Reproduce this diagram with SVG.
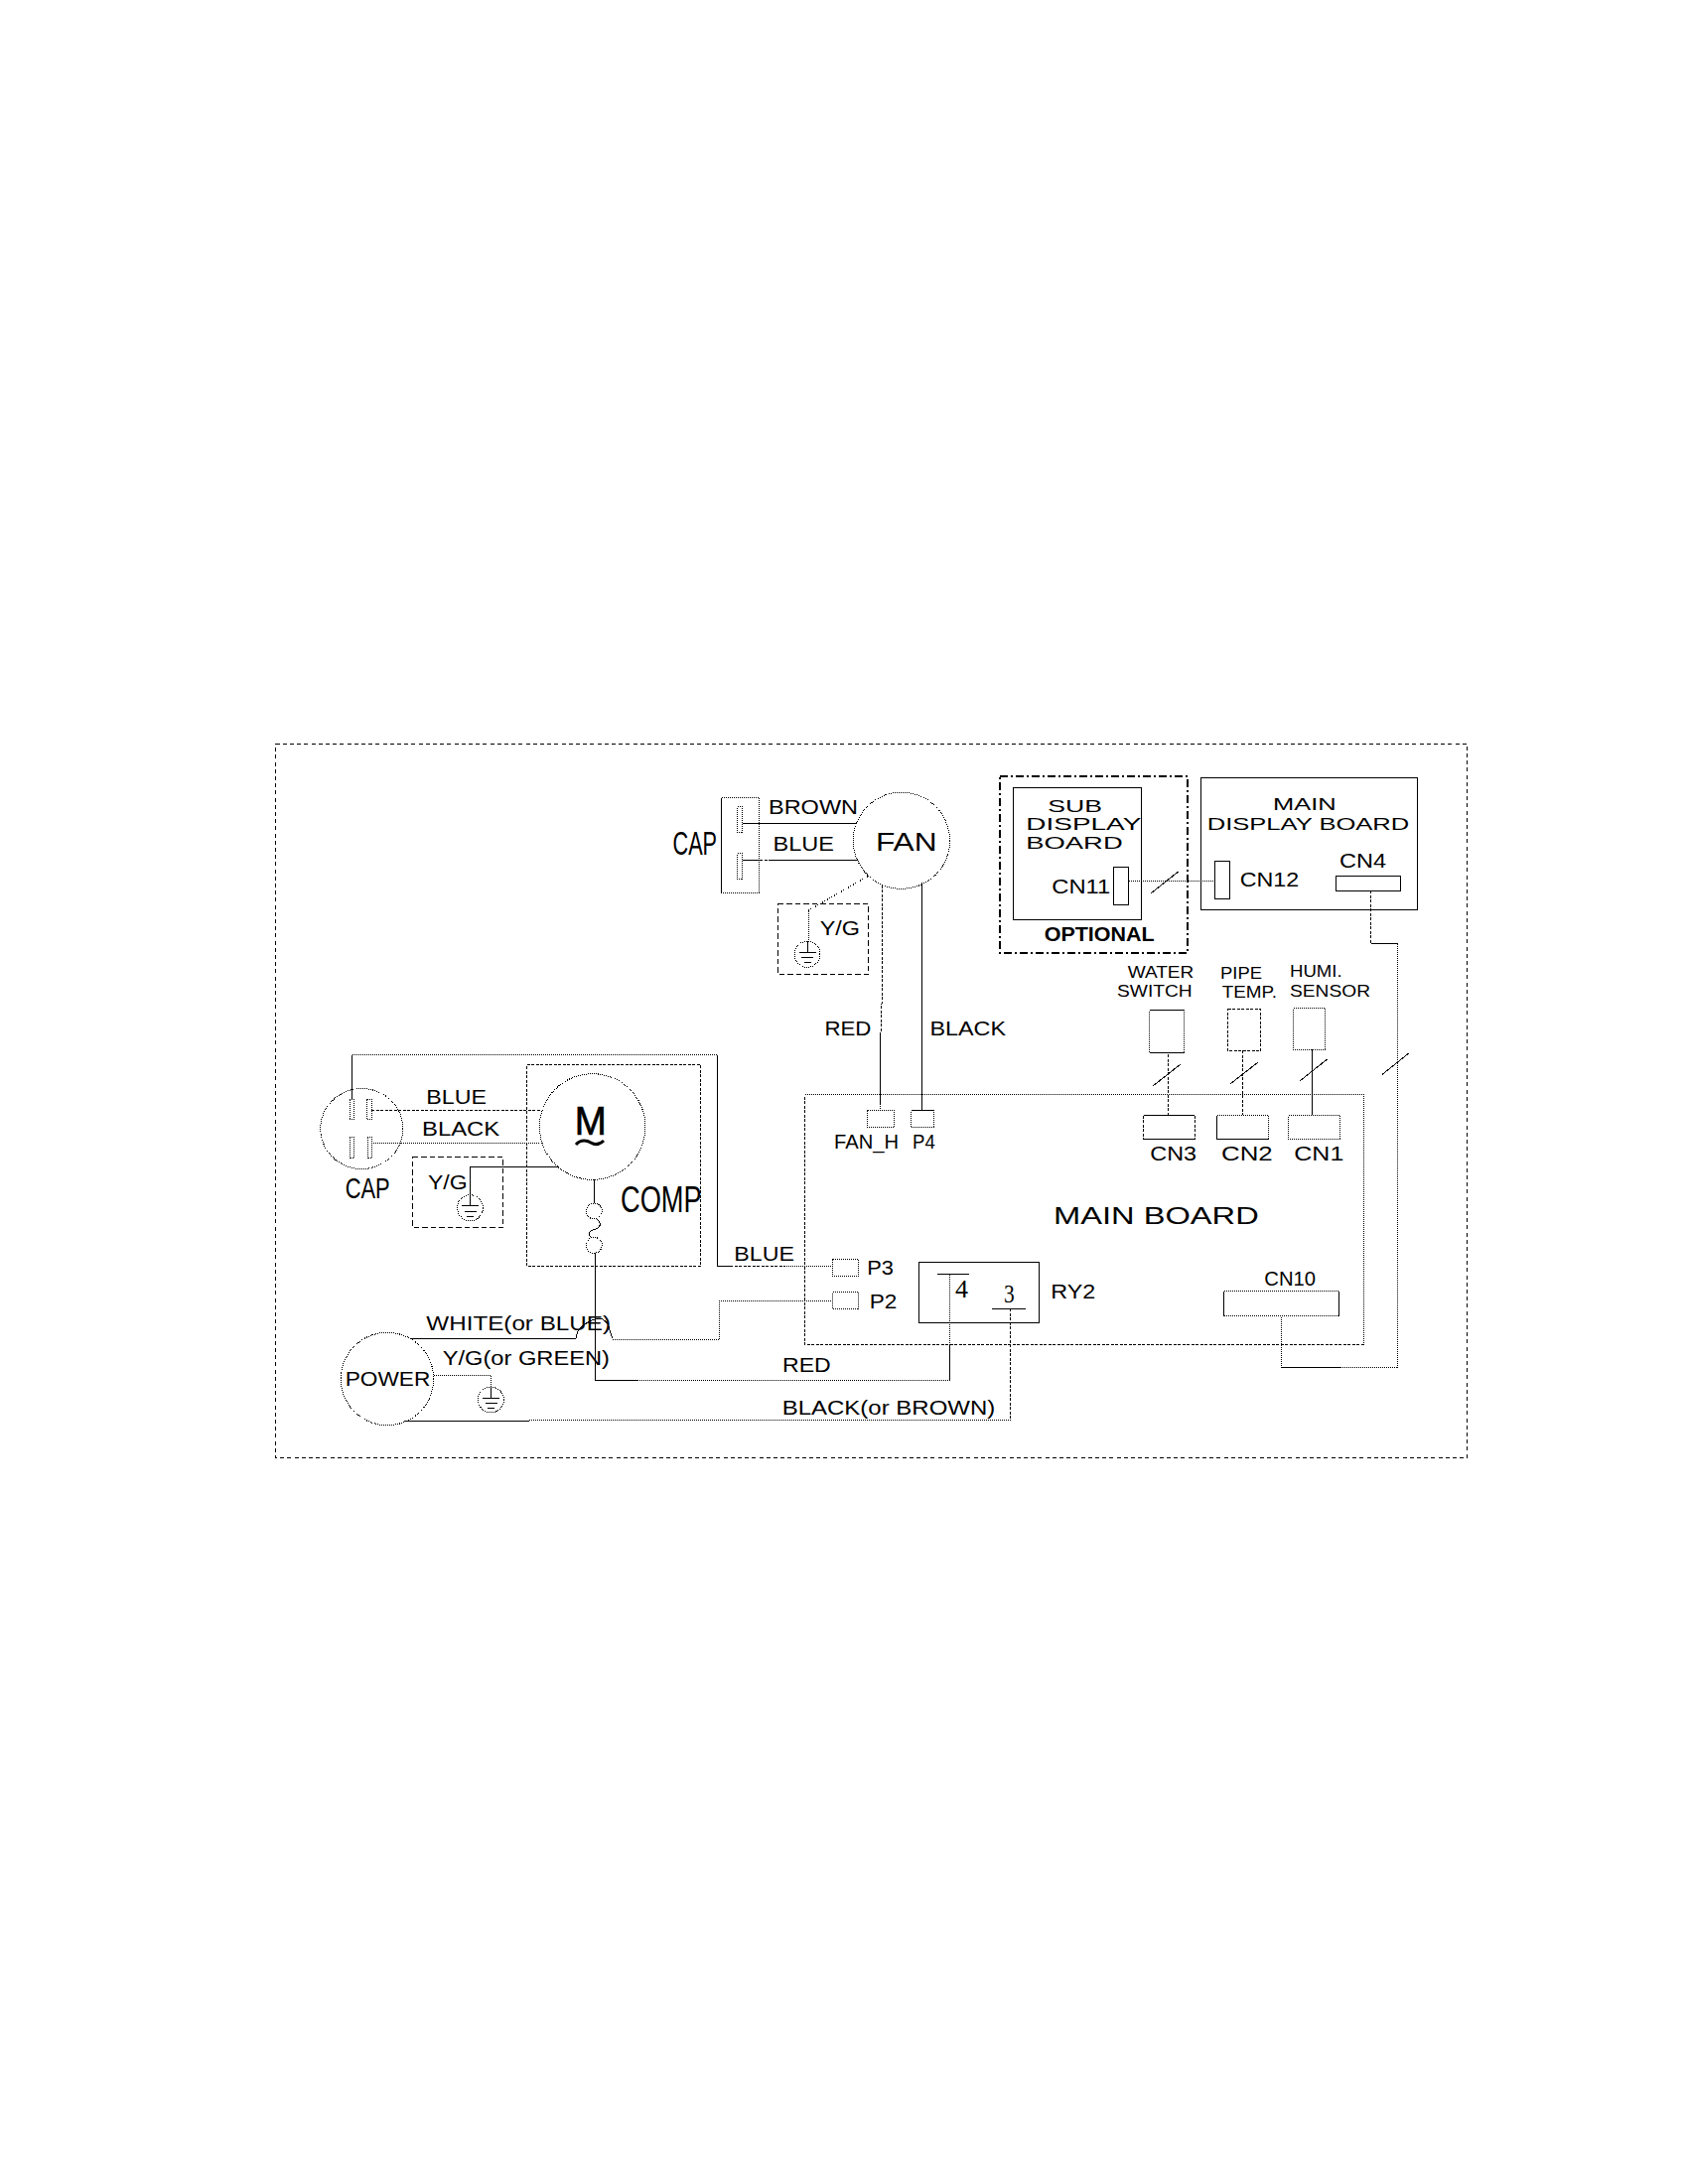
<svg xmlns="http://www.w3.org/2000/svg" width="1700" height="2200" viewBox="0 0 1700 2200">
<defs>
<style>
.s,.d,.m,.l,.o,.od{shape-rendering:crispEdges}
.s,.d,.m,.l,.o{fill:none;stroke:#000;stroke-width:1}
.d{stroke-dasharray:1 1}
.m{stroke-dasharray:3 1.5}
.l{stroke-dasharray:5.5 3}
.o{stroke-dasharray:4 3.2}
.od{fill:none;stroke:#000;stroke-width:2;stroke-dasharray:8 3 2 3}
text{font-family:"Liberation Sans",Arial,sans-serif;fill:#000}
.t21{font-size:21px}.t16{font-size:16.500px}.t17{font-size:17px}.t24{font-size:24px}.t25{font-size:25px}
.ser{font-family:"Liberation Serif","Times New Roman",serif;font-size:26px}
</style>
<g id="gnd"><circle class="d" r="13"/><path class="s" d="M0-13V-2M-8.500-2H8.500M-6 3.500H6M-3.500 8.500H3.500"/></g>
</defs>
<rect width="1700" height="2200" fill="#fff"/>
<rect id="frame" class="o" x="277.500" y="749.500" width="1200" height="719"/>

<g id="connectors">
<path class="s" d="M747.500 829.500H862"/>
<path class="s" d="M747.500 866.500H765"/><path class="m" d="M765 866.500H775"/><path class="s" d="M775 866.500H864"/>
<path class="d" d="M874 882.700L814 917.300V946.700"/>
<path class="m" d="M888.500 891.700V985L887.500 1040"/><path class="s" d="M886.500 1040V1112"/><path class="d" d="M886.500 1112V1118.300"/>
<path class="s" d="M928.500 889.300V1118.300"/>
<path class="d" d="M1136.700 887.500H1223.300"/><path class="s" d="M1159 900L1186.700 878"/>
<path class="m" d="M1380.500 897.300V950.500"/><path class="s" d="M1380.500 950.500H1407.500"/><path class="d" d="M1407.500 950.500V1377.500H1350"/><path class="s" d="M1350 1377.500H1290.500"/><path class="d" d="M1290.500 1377.500V1325.700"/>
<path class="s" d="M1391.700 1082.700L1418.700 1061"/>
<path class="m" d="M1176.500 1062V1123.300"/><path class="s" d="M1161 1094L1189 1072"/>
<path class="m" d="M1251.500 1058.300V1123.300"/><path class="s" d="M1239.300 1091.700L1266.700 1070.300"/>
<path class="s" d="M1321.500 1057.300V1123.300"/><path class="s" d="M1309.300 1088.700L1336.700 1067"/>
<path class="s" d="M354.500 1107V1062.500"/><path class="d" d="M354.500 1062.500H722.500"/><path class="s" d="M722.500 1062.500V1275.500H735"/><path class="m" d="M735 1275.500H790"/><path class="d" d="M790 1275.500H838.300"/>
<path class="m" d="M374 1118.500H544.300"/><path class="d" d="M374.300 1151.500H544.300"/>
<path class="s" d="M561.700 1175.500H473.500V1203.300"/>
<path class="s" d="M598.500 1188.300V1212"/><path class="s" d="M599.500 1262V1390.500H642"/><path class="d" d="M642 1390.500H956.500"/><path class="s" d="M956.500 1390.500V1355"/><path class="d" d="M956.500 1355V1283"/>
<path class="m" d="M1017.500 1318.300V1430.500"/><path class="d" d="M1017.500 1430.500H533"/><path class="s" d="M533 1431.500H406.700"/>
<path class="s" d="M413.300 1348.500H580C581 1344 581 1342 582.700 1340C586 1336 589 1333.500 593 1331.700C597 1329.500 600 1328 603 1328C607 1328 609 1330 611.700 1333C614 1338 615 1345 617.300 1348.500"/>
<path class="d" d="M617.300 1349.500H724.500V1310.500H838.300"/>
<path class="d" d="M436.700 1385.500H494.500V1397"/>
<path class="s" d="M944 1283.500H975.700M999 1318.500H1032.700"/>
</g>

<g id="fan-cap">
<rect class="d" x="726.500" y="803.500" width="38" height="96"/><path class="s" d="M726.500 803.500V899.500"/>
<rect class="d" x="742.500" y="812.500" width="5" height="26"/><rect class="d" x="742.500" y="859.500" width="5" height="26"/>
<text x="677.500" y="861" style="font-size:33px" textLength="44.500" lengthAdjust="spacingAndGlyphs">CAP</text>
</g>
<g id="fan">
<circle class="d" cx="907.900" cy="846.700" r="48.600"/>
<text class="t25" x="882" y="856.700" textLength="61.600" lengthAdjust="spacingAndGlyphs">FAN</text>
</g>
<g id="fan-labels">
<text class="t21" x="774" y="820" textLength="90" lengthAdjust="spacingAndGlyphs">BROWN</text>
<text class="t21" x="778.600" y="856.700" textLength="61.400" lengthAdjust="spacingAndGlyphs">BLUE</text>
<text class="t21" x="830.400" y="1042.700" textLength="47" lengthAdjust="spacingAndGlyphs">RED</text>
<text class="t21" x="936.400" y="1043" textLength="76.600" lengthAdjust="spacingAndGlyphs">BLACK</text>
</g>
<g id="fan-ground">
<rect class="l" x="783.500" y="910.500" width="91" height="71"/>
<use href="#gnd" x="813" y="961.300"/>
<text class="t21" x="825.700" y="941.700" textLength="40.300" lengthAdjust="spacingAndGlyphs">Y/G</text>
</g>

<g id="optional">
<rect class="od" x="1007" y="782" width="189" height="178"/>
<text x="1051.700" y="947.700" style="font-size:20px;font-weight:bold" textLength="111" lengthAdjust="spacingAndGlyphs">OPTIONAL</text>
</g>
<g id="sub-display-board">
<rect class="s" x="1020.500" y="793.500" width="129" height="133"/>
<text class="t17" x="1055.300" y="818.300" textLength="54.700" lengthAdjust="spacingAndGlyphs">SUB</text>
<text class="t17" x="1033.300" y="836" textLength="116" lengthAdjust="spacingAndGlyphs">DISPLAY</text>
<text class="t17" x="1033.300" y="855" textLength="97.400" lengthAdjust="spacingAndGlyphs">BOARD</text>
<rect class="s" x="1121.500" y="873.500" width="15" height="38"/>
<text class="t21" x="1059.300" y="900" textLength="59" lengthAdjust="spacingAndGlyphs">CN11</text>
</g>
<g id="main-display-board">
<rect class="s" x="1209.500" y="783.500" width="218" height="133"/>
<text class="t17" x="1282" y="816" textLength="63.700" lengthAdjust="spacingAndGlyphs">MAIN</text>
<text class="t17" x="1215.700" y="836" textLength="203.600" lengthAdjust="spacingAndGlyphs">DISPLAY BOARD</text>
<rect class="s" x="1223.500" y="867.500" width="15" height="38"/>
<text class="t21" x="1248.700" y="893.300" textLength="59.600" lengthAdjust="spacingAndGlyphs">CN12</text>
<rect class="s" x="1345.500" y="882.500" width="65" height="15"/>
<text class="t21" x="1349" y="874" textLength="47" lengthAdjust="spacingAndGlyphs">CN4</text>
</g>

<g id="water-switch">
<rect class="d" x="1157.500" y="1017.500" width="35" height="43"/>
<path class="s" d="M1157.500 1060.500H1192.500M1157.500 1017.500H1192.500"/>
<text class="t16" x="1135.700" y="985" textLength="66.600" lengthAdjust="spacingAndGlyphs">WATER</text>
<text class="t16" x="1125" y="1004" textLength="75.700" lengthAdjust="spacingAndGlyphs">SWITCH</text>
</g>
<g id="pipe-temp">
<rect class="m" x="1236.500" y="1016.500" width="33" height="42"/>
<text class="t16" x="1229" y="986" textLength="42" lengthAdjust="spacingAndGlyphs">PIPE</text>
<text class="t16" x="1230.700" y="1004.700" textLength="55.300" lengthAdjust="spacingAndGlyphs">TEMP.</text>
</g>
<g id="humi-sensor">
<rect class="d" x="1302.500" y="1015.500" width="32" height="42"/>
<text class="t16" x="1299" y="984" textLength="52.700" lengthAdjust="spacingAndGlyphs">HUMI.</text>
<text class="t16" x="1299" y="1004" textLength="81" lengthAdjust="spacingAndGlyphs">SENSOR</text>
</g>

<g id="main-board">
<path class="d" d="M810.500 1102.500H1373.500V1354.500"/>
<path class="m" d="M1373.500 1354.500H810.500V1102.500"/>
<rect class="d" x="873.500" y="1118.500" width="26.500" height="17"/>
<text class="t21" x="840" y="1157.300" textLength="65" lengthAdjust="spacingAndGlyphs">FAN_H</text>
<rect class="d" x="917.500" y="1118.500" width="23" height="17"/><path class="s" d="M917.500 1118.500H940.500"/>
<text class="t21" x="919" y="1156.700" textLength="22.700" lengthAdjust="spacingAndGlyphs">P4</text>
<path class="m" d="M1151.500 1123.500V1147.500M1203 1123.500V1147.500"/><path class="s" d="M1151.500 1123.500H1203M1151.500 1147.500H1203"/>
<text class="t21" x="1158.300" y="1169.300" textLength="46.700" lengthAdjust="spacingAndGlyphs">CN3</text>
<rect class="d" x="1225.500" y="1123.500" width="52" height="24"/><path class="s" d="M1225.500 1123.500V1147.500H1277.500"/>
<text class="t21" x="1230" y="1168.700" textLength="51.700" lengthAdjust="spacingAndGlyphs">CN2</text>
<rect class="d" x="1297.500" y="1123.500" width="52" height="24"/>
<text class="t21" x="1303.300" y="1169.300" textLength="50" lengthAdjust="spacingAndGlyphs">CN1</text>
<text class="t24" x="1061" y="1233.300" textLength="206.700" lengthAdjust="spacingAndGlyphs">MAIN BOARD</text>
<rect class="d" x="1232.500" y="1300.500" width="116" height="25"/><path class="s" d="M1232.500 1300.500V1325.500M1348.500 1300.500V1325.500"/>
<text class="t21" x="1273.300" y="1295" textLength="51.700" lengthAdjust="spacingAndGlyphs">CN10</text>
<rect class="d" x="838.500" y="1268.500" width="25.500" height="17"/>
<text class="t21" x="873.300" y="1284" textLength="26.700" lengthAdjust="spacingAndGlyphs">P3</text>
<rect class="d" x="838.500" y="1301.500" width="26" height="17"/>
<text class="t21" x="875.700" y="1317.700" textLength="27.600" lengthAdjust="spacingAndGlyphs">P2</text>
</g>
<g id="ry2">
<rect class="s" x="925.500" y="1271.500" width="121" height="61"/>
<text class="ser" x="962" y="1306.700" textLength="13" lengthAdjust="spacingAndGlyphs">4</text>
<text class="ser" x="1011" y="1312.300" textLength="10.700" lengthAdjust="spacingAndGlyphs">3</text>
<text class="t21" x="1058.300" y="1307.700" textLength="45" lengthAdjust="spacingAndGlyphs">RY2</text>
</g>

<g id="comp-cap">
<ellipse class="d" cx="364.300" cy="1137" rx="41.500" ry="40.500"/>
<rect class="d" x="352" y="1107.500" width="4.500" height="20"/><rect class="d" x="369.500" y="1107.500" width="4.500" height="20"/>
<rect class="d" x="352" y="1145.500" width="4.500" height="21"/><rect class="d" x="370" y="1145.500" width="4.500" height="21"/>
<text x="347.700" y="1206.700" style="font-size:30px" textLength="45" lengthAdjust="spacingAndGlyphs">CAP</text>
</g>
<g id="comp">
<rect class="m" x="530.500" y="1072.500" width="175" height="203"/>
<circle class="d" cx="596.700" cy="1135" r="53.300"/>
<text x="578.700" y="1142.700" style="font-size:41px" stroke="#000" stroke-width=".7" textLength="32" lengthAdjust="spacingAndGlyphs">M</text>
<path fill="none" stroke="#000" stroke-width="3" d="M580 1153C585 1147 592 1149 595 1151C600 1154 604 1153 608 1149"/>
<circle class="d" cx="598.300" cy="1220" r="8"/><circle class="d" cx="598.300" cy="1254.300" r="8"/>
<path class="s" d="M601 1228C606 1232 605 1236 600 1238C592 1240 592 1244 596 1247"/>
<text x="625" y="1220.700" style="font-size:37px" textLength="81.700" lengthAdjust="spacingAndGlyphs">COMP</text>
</g>
<g id="comp-labels">
<text class="t21" x="429.300" y="1111.700" textLength="60.700" lengthAdjust="spacingAndGlyphs">BLUE</text>
<text class="t21" x="425" y="1144.300" textLength="78.300" lengthAdjust="spacingAndGlyphs">BLACK</text>
<text class="t21" x="739.300" y="1270" textLength="60.700" lengthAdjust="spacingAndGlyphs">BLUE</text>
<text class="t21" x="429.300" y="1340" textLength="185.700" lengthAdjust="spacingAndGlyphs">WHITE(or BLUE)</text>
<text class="t21" x="445.700" y="1375" textLength="168.300" lengthAdjust="spacingAndGlyphs">Y/G(or GREEN)</text>
<text class="t21" x="788" y="1381.700" textLength="48.700" lengthAdjust="spacingAndGlyphs">RED</text>
<text class="t21" x="787.700" y="1425" textLength="214.600" lengthAdjust="spacingAndGlyphs">BLACK(or BROWN)</text>
</g>
<g id="comp-ground">
<rect class="l" x="415.500" y="1165.500" width="91" height="71"/>
<use href="#gnd" x="473.500" y="1216.700"/>
<text class="t21" x="431" y="1197.700" textLength="39.700" lengthAdjust="spacingAndGlyphs">Y/G</text>
</g>
<g id="power">
<circle class="d" cx="390" cy="1389" r="46.700"/>
<text x="347.700" y="1396" style="font-size:19.500px" textLength="85.600" lengthAdjust="spacingAndGlyphs">POWER</text>
<use href="#gnd" x="494.500" y="1410"/>
</g>
</svg>
